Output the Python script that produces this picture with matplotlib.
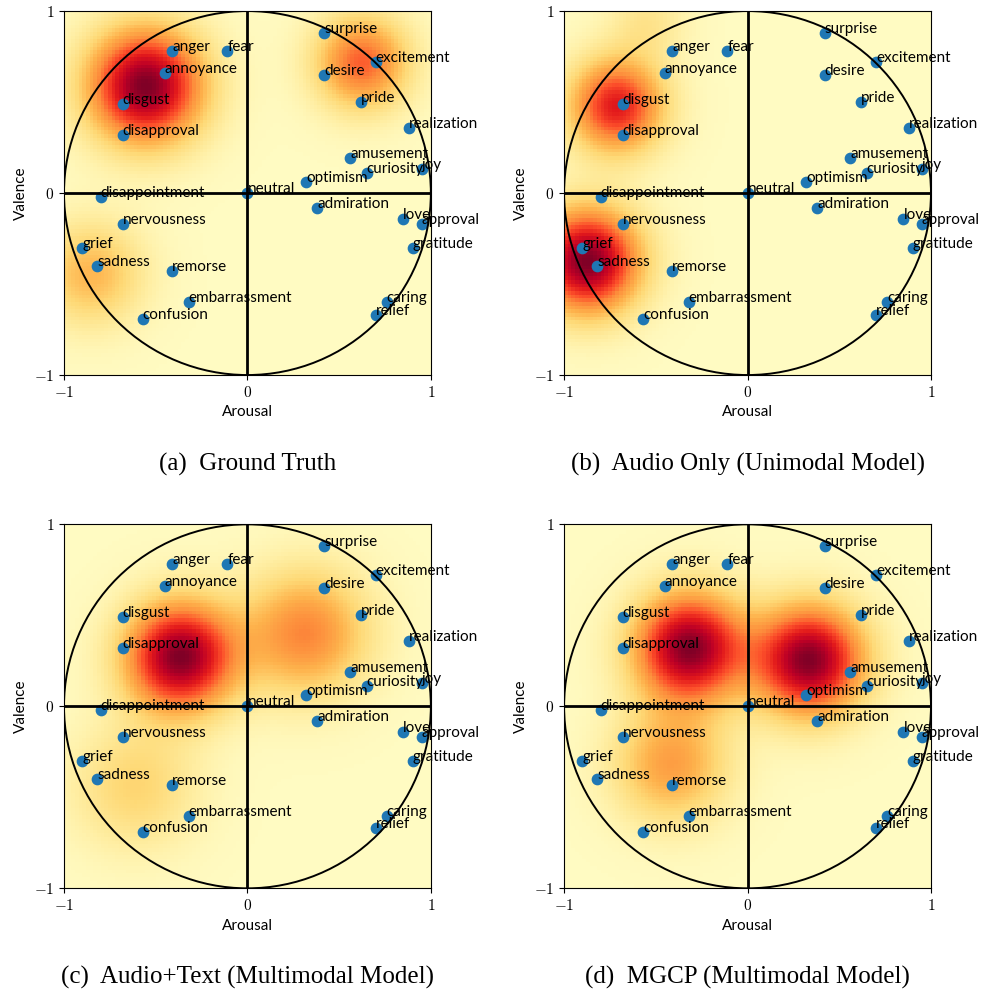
import numpy as np
import matplotlib.pyplot as plt
from matplotlib.patches import Circle

plt.rcParams['mathtext.fontset'] = 'cm'

# emotion positions on the arousal / valence plane
emotions = ['surprise', 'excitement', 'desire', 'pride', 'realization', 'amusement',
            'curiosity', 'joy', 'optimism', 'neutral', 'admiration', 'love', 'approval',
            'gratitude', 'caring', 'relief', 'anger', 'fear', 'annoyance', 'disgust',
            'disapproval', 'disappointment', 'nervousness', 'grief', 'sadness', 'remorse',
            'embarrassment', 'confusion']
arousal = [0.42, 0.70, 0.42, 0.62, 0.88, 0.56, 0.65, 0.95, 0.32, 0.0, 0.38, 0.85, 0.95,
           0.90, 0.76, 0.70, -0.41, -0.11, -0.45, -0.68, -0.68, -0.80, -0.68, -0.90,
           -0.82, -0.41, -0.32, -0.57]
valence = [0.88, 0.72, 0.65, 0.50, 0.36, 0.19, 0.11, 0.13, 0.06, 0.0, -0.08, -0.14, -0.17,
           -0.30, -0.60, -0.67, 0.78, 0.78, 0.66, 0.49, 0.32, -0.02, -0.17, -0.30, -0.40,
           -0.43, -0.60, -0.69]

captions = ['(a)  Ground Truth', '(b)  Audio Only (Unimodal Model)',
            '(c)  Audio+Text (Multimodal Model)', '(d)  MGCP (Multimodal Model)']

# density components per panel: centre arousal, centre valence, spread, weight
comp_x = [[-0.56, 0.63, -0.86], [-0.88, -0.72, -0.55], [-0.37, 0.32, -0.62], [-0.32, 0.34, -0.42]]
comp_y = [[0.59, 0.72, -0.45], [-0.38, 0.48, 0.95], [0.27, 0.40, -0.45], [0.32, 0.25, -0.33]]
comp_s = [[0.22, 0.18, 0.20], [0.20, 0.18, 0.15], [0.21, 0.24, 0.24], [0.21, 0.21, 0.22]]
comp_w = [[1.0, 0.58, 0.34], [1.0, 0.75, 0.15], [1.0, 0.50, 0.24], [1.0, 1.0, 0.42]]

grid = np.linspace(-1, 1, 100)
gx, gy = np.meshgrid(grid, grid)

fig = plt.figure(figsize=(9.81, 9.94), dpi=100)
lefts = [0.0652, 0.575, 0.0652, 0.575]
bottoms = [0.6227, 0.6227, 0.1063, 0.1063]
cap_y = [0.533, 0.533, 0.017, 0.017]

for i in range(4):
    ax = fig.add_axes([lefts[i], bottoms[i], 0.374, 0.3662])
    z = np.zeros_like(gx)
    for cx, cy, s, w in zip(comp_x[i], comp_y[i], comp_s[i], comp_w[i]):
        z += w * np.exp(-((gx - cx) ** 2 + (gy - cy) ** 2) / (2 * s ** 2))
    ax.imshow(z, extent=[-1, 1, -1, 1], origin='lower', cmap='YlOrRd',
              vmin=-0.03, vmax=z.max(), interpolation='nearest', aspect='auto', zorder=0)
    ax.scatter(arousal, valence, s=55, color='#1f77b4', zorder=2)
    ax.axhline(0, color='black', lw=2, zorder=3)
    ax.axvline(0, color='black', lw=2, zorder=3)
    ax.add_patch(Circle((0, 0), 1, fill=False, ec='black', lw=1.4, zorder=3))
    for name, x, y in zip(emotions, arousal, valence):
        ax.text(x, y, name, fontsize=11, family='Lato', zorder=4)
    ax.set_xlim(-1, 1)
    ax.set_ylim(-1, 1)
    ax.set_xticks([-1, 0, 1])
    ax.set_yticks([-1, 0, 1])
    ax.set_xticklabels(['$-1$', '$0$', '$1$'], fontsize=11)
    ax.set_yticklabels(['$-1$', '$0$', '$1$'], fontsize=11)
    ax.set_xlabel('Arousal', fontsize=11, family='Lato')
    ax.set_ylabel('Valence', fontsize=11, family='Lato')
    fig.text(lefts[i] + 0.187, cap_y[i], captions[i], ha='center', va='center',
             fontsize=18, family='Liberation Serif')

fig.savefig('out.png', dpi=100)
